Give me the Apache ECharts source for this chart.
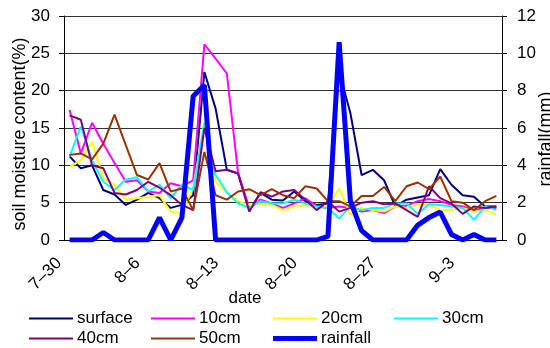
<!DOCTYPE html>
<html>
<head>
<meta charset="utf-8">
<script src="https://cdn.jsdelivr.net/npm/echarts@6/dist/echarts.min.js"></script>
<style>
  html, body { margin: 0; padding: 0; background: #fff; }
  #chart { width: 550px; height: 348px; }
</style>
</head>
<body>
<div id="chart"></div>
<script>
// x categories (one per day)
const dates = ['7–30','7–31','8–1','8–2','8–3','8–4','8–5','8–6','8–7','8–8',
  '8–9','8–10','8–11','8–12','8–13','8–14','8–15','8–16','8–17','8–18',
  '8–19','8–20','8–21','8–22','8–23','8–24','8–25','8–26','8–27','8–28',
  '8–29','8–30','8–31','9–1','9–2','9–3','9–4','9–5','9–6'];

// soil moisture content (%)
const surface = [11.2, 9.6, 10.0, 6.7, 6.1, 4.7, 5.4, 6.3, 5.6, 4.3,
  4.7, 6.0, 22.5, 17.6, 9.4, 8.9, 4.0, 6.3, 5.4, 5.3,
  6.5, 5.2, 4.7, 4.9, 22.5, 17.0, 8.7, 9.4, 8.0, 4.5,
  5.4, 5.7, 6.0, 9.5, 7.4, 6.0, 5.8, 4.5, 4.5];
const cm10 = [17.4, 11.6, 15.7, 12.9, 10.3, 7.8, 8.0, 6.5, 6.3, 7.6,
  7.2, 8.0, 26.2, 24.3, 22.3, 9.0, 4.3, 5.4, 4.9, 4.3,
  4.9, 5.6, 4.5, 4.3, 4.5, 4.3, 3.8, 4.0, 3.6, 4.5,
  4.6, 5.2, 5.5, 5.2, 4.7, 4.5, 4.0, 4.3, 4.3];
const cm20 = [9.8, 10.7, 13.2, 8.3, 7.4, 5.4, 5.6, 5.8, 6.0, 3.8,
  3.6, 7.0, 15.8, 7.8, 6.3, 5.2, 4.7, 4.9, 4.7, 4.0,
  4.5, 4.7, 4.3, 4.5, 6.9, 3.4, 4.3, 4.0, 3.8, 4.5,
  4.3, 4.7, 4.7, 4.0, 4.0, 4.3, 3.8, 4.0, 3.4];
const cm30 = [11.2, 15.2, 10.7, 7.8, 6.7, 8.1, 8.4, 6.5, 7.4, 5.6,
  7.4, 6.7, 15.6, 8.7, 6.4, 4.9, 4.3, 5.2, 4.9, 4.9,
  5.4, 4.9, 4.5, 4.3, 2.9, 4.5, 4.0, 4.3, 4.3, 4.9,
  4.9, 3.5, 4.8, 4.7, 4.5, 4.3, 2.7, 4.5, 4.0];
const cm40 = [16.7, 16.1, 10.0, 9.6, 6.3, 6.1, 6.7, 7.8, 7.0, 6.0,
  4.7, 4.0, 15.0, 9.2, 9.4, 8.9, 3.8, 6.4, 5.8, 6.5,
  6.7, 5.4, 4.0, 5.2, 3.8, 4.3, 5.0, 5.2, 4.8, 4.9,
  4.0, 3.1, 7.2, 5.6, 4.9, 3.5, 4.5, 4.3, 4.5];
const cm50 = [11.4, 11.6, 10.8, 12.9, 16.8, 12.7, 8.7, 8.1, 10.3, 6.5,
  6.9, 4.0, 11.8, 6.0, 5.4, 6.5, 6.8, 6.0, 6.8, 6.0,
  5.6, 7.2, 6.9, 5.2, 5.2, 4.5, 5.9, 5.9, 7.1, 5.2,
  7.2, 7.7, 6.8, 8.5, 5.2, 5.0, 4.0, 5.2, 5.9];

// rainfall (mm), right axis
const rainfall = [0, 0, 0, 0.4, 0, 0, 0, 0, 1.2, 0,
  1.2, 7.7, 8.3, 0, 0, 0, 0, 0, 0, 0,
  0, 0, 0, 0.2, 10.6, 2.1, 0.5, 0, 0, 0,
  0, 0.8, 1.2, 1.5, 0.3, 0, 0.3, 0, 0];

const font = 'Arial, "Liberation Sans", sans-serif';
const chart = echarts.init(document.getElementById('chart'), null, { renderer: 'canvas' });

const soil = [
  { name: 'surface', data: surface, color: '#000080' },
  { name: '10cm', data: cm10, color: '#ff00ff' },
  { name: '20cm', data: cm20, color: '#ffff00' },
  { name: '30cm', data: cm30, color: '#00ffff' },
  { name: '40cm', data: cm40, color: '#800080' },
  { name: '50cm', data: cm50, color: '#993300' }
];

const series = soil.map(s => ({
  name: s.name, type: 'line', yAxisIndex: 0, data: s.data,
  symbol: 'none', animation: false,
  itemStyle: { color: s.color },
  lineStyle: { color: s.color, width: 2 }
}));
series.push({
  name: 'rainfall', type: 'line', yAxisIndex: 1, data: rainfall,
  symbol: 'none', animation: false, z: 5,
  itemStyle: { color: '#0000ff' },
  lineStyle: { color: '#0000ff', width: 5 }
});

// legend laid out in fixed columns like the original
const legendPos = [
  ['surface', 29, 317, 2], ['10cm', 151, 317, 2], ['20cm', 273, 317, 2], ['30cm', 394, 317, 2],
  ['40cm', 29, 337, 2], ['50cm', 151, 337, 2], ['rainfall', 273, 337, 5]
];
const legends = legendPos.map(p => ({
  data: [p[0]], left: p[1], top: p[2] - 7, orient: 'horizontal',
  icon: 'rect', itemWidth: 44, itemHeight: p[3], itemGap: 0, padding: 0,
  textStyle: { fontFamily: font, fontSize: 17, color: '#000', padding: [0, 0, 0, -1] }
}));

chart.setOption({
  backgroundColor: '#fff',
  animation: false,
  grid: { left: 64, right: 48, top: 16, bottom: 108, containLabel: false, outerBoundsMode: 'none' },
  legend: legends,
  xAxis: {
    type: 'category', data: dates, boundaryGap: true,
    name: 'date', nameLocation: 'middle', nameGap: 50, nameMoveOverlap: false,
    nameTextStyle: { fontFamily: font, fontSize: 17, color: '#000', padding: [0, 76, 0, 0] },
    axisLine: { lineStyle: { color: '#000', width: 1 } },
    axisTick: { interval: 6, length: 5, lineStyle: { color: '#000' } },
    axisLabel: { interval: 6, rotate: 45, margin: 10, padding: [0, 15, 0, 0],
      fontFamily: font, fontSize: 17, color: '#000' },
    splitLine: { show: false }
  },
  yAxis: [
    {
      type: 'value', min: 0, max: 30, interval: 5, position: 'left',
      name: 'soil moisture content(%)', nameLocation: 'middle', nameGap: 35, nameRotate: 90,
      nameMoveOverlap: false,
      nameTextStyle: { fontFamily: font, fontSize: 18, color: '#000', padding: [0, 12, 0, 0] },
      axisLine: { show: true, lineStyle: { color: '#000', width: 1 } },
      axisTick: { show: true, length: 5, lineStyle: { color: '#000' } },
      axisLabel: { margin: 14, fontFamily: font, fontSize: 17, color: '#000' },
      splitLine: { show: true, lineStyle: { color: '#333', width: 1 } }
    },
    {
      type: 'value', min: 0, max: 12, interval: 2, position: 'right',
      name: 'rainfall(mm)', nameLocation: 'middle', nameGap: 35, nameRotate: 90,
      nameMoveOverlap: false,
      nameTextStyle: { fontFamily: font, fontSize: 18, color: '#000', padding: [0, 22, 0, 0] },
      axisLine: { show: true, lineStyle: { color: '#000', width: 1 } },
      axisTick: { show: true, length: 5, lineStyle: { color: '#000' } },
      axisLabel: { margin: 15, fontFamily: font, fontSize: 17, color: '#000' },
      splitLine: { show: false }
    }
  ],
  series: series
});
</script>
</body>
</html>
